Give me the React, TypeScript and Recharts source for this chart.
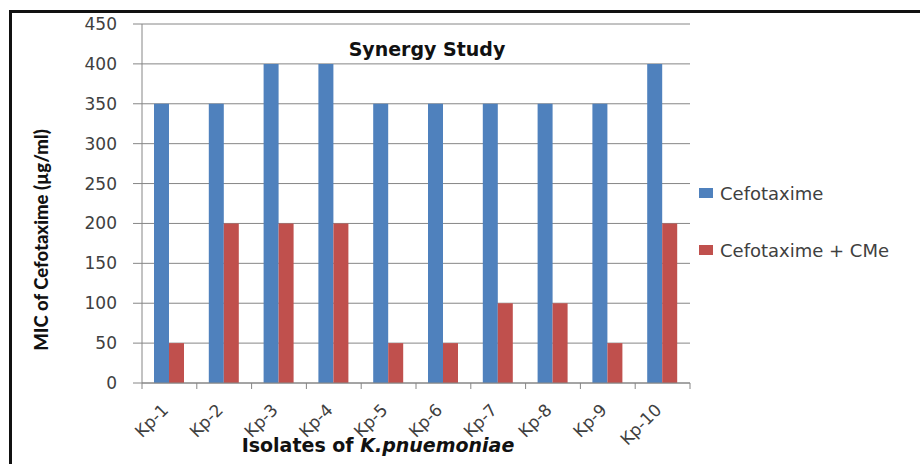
import { Bar, BarChart, CartesianGrid, XAxis, YAxis } from "recharts";

const categories = ["Kp-1", "Kp-2", "Kp-3", "Kp-4", "Kp-5", "Kp-6", "Kp-7", "Kp-8", "Kp-9", "Kp-10"];
const cefotaxime = [350, 350, 400, 400, 350, 350, 350, 350, 350, 400];
const cefotaximeCMe = [50, 200, 200, 200, 50, 50, 100, 100, 50, 200];
const yTicks = [0, 50, 100, 150, 200, 250, 300, 350, 400, 450];

const series = [
  { key: "cefotaxime", name: "Cefotaxime", color: "#4f81bd" },
  { key: "combo", name: "Cefotaxime + CMe", color: "#c0504d" },
];

const data = categories.map((name, i) => ({ name, cefotaxime: cefotaxime[i], combo: cefotaximeCMe[i] }));

const W = 920;
const H = 464;
const PLOT_LEFT = 142;
const PLOT_RIGHT = 690;
const axisColor = "#868686";
const textColor = "#404040";
const sans = "'DejaVu Sans', sans-serif";

function XTick(props: any) {
  const { x, y, payload, index } = props;
  const half = (PLOT_RIGHT - PLOT_LEFT) / categories.length / 2;
  const ty = y + 28;
  return (
    <g>
      <line x1={x - half} x2={x - half} y1={y} y2={y + 6} stroke={axisColor} />
      {index === categories.length - 1 && <line x1={x + half} x2={x + half} y1={y} y2={y + 6} stroke={axisColor} />}
      <text x={x} y={ty} textAnchor="end" transform={`rotate(-45, ${x}, ${ty})`} fontFamily={sans} fontSize={17} fill={textColor}>
        {payload.value}
      </text>
    </g>
  );
}

export default function App() {
  return (
    <div style={{ position: "absolute", left: 0, top: 0, width: W, height: H, background: "#fff" }}>
      <div style={{ position: "absolute", left: 9, top: 10, right: 0, bottom: 0, borderTop: "3px solid #111", borderLeft: "3px solid #111" }} />
      <BarChart
        width={W}
        height={H}
        data={data}
        margin={{ top: 24, right: W - PLOT_RIGHT, bottom: 0, left: 0 }}
        barCategoryGap={12}
        barGap={0}
      >
        <CartesianGrid vertical={false} stroke={axisColor} />
        <XAxis
          dataKey="name"
          height={81}
          interval={0}
          tickSize={0}
          tickMargin={0}
          stroke={axisColor}
          tick={<XTick />}
          label={() => (
            <text x={378} y={452} textAnchor="middle" fontFamily={sans} fontSize={19} fontWeight="bold" fill="#111">
              Isolates of <tspan fontStyle="italic">K.pnuemoniae</tspan>
            </text>
          )}
        />
        <YAxis
          width={PLOT_LEFT}
          domain={[0, 450]}
          ticks={yTicks}
          interval={0}
          tickSize={9}
          tickMargin={16}
          stroke={axisColor}
          tick={{ fill: textColor, fontSize: 17, fontFamily: sans }}
          label={() => (
            <text
              x={41}
              y={240}
              textAnchor="middle"
              dominantBaseline="central"
              transform="rotate(-90, 41, 240)"
              fontFamily="Lato, sans-serif"
              fontSize={18.5}
              fontWeight={900}
              fill="#111"
            >
              MIC of Cefotaxime (µg/ml)
            </text>
          )}
        />
        {series.map((s) => (
          <Bar key={s.key} dataKey={s.key} name={s.name} fill={s.color} isAnimationActive={false} />
        ))}
      </BarChart>
      <div
        style={{
          position: "absolute",
          left: 330,
          top: 38,
          width: 194,
          textAlign: "center",
          fontFamily: sans,
          fontWeight: "bold",
          fontSize: 19,
          lineHeight: "22px",
          color: "#111",
        }}
      >
        Synergy Study
      </div>
      {series.map((s, i) => (
        <div
          key={s.key}
          style={{
            position: "absolute",
            left: 699,
            top: 183 + i * 57,
            height: 20,
            display: "flex",
            alignItems: "center",
            fontFamily: sans,
            fontSize: 18,
            color: textColor,
            whiteSpace: "nowrap",
          }}
        >
          <span style={{ display: "inline-block", width: 14, height: 10, background: s.color, marginRight: 7 }} />
          {s.name}
        </div>
      ))}
    </div>
  );
}
